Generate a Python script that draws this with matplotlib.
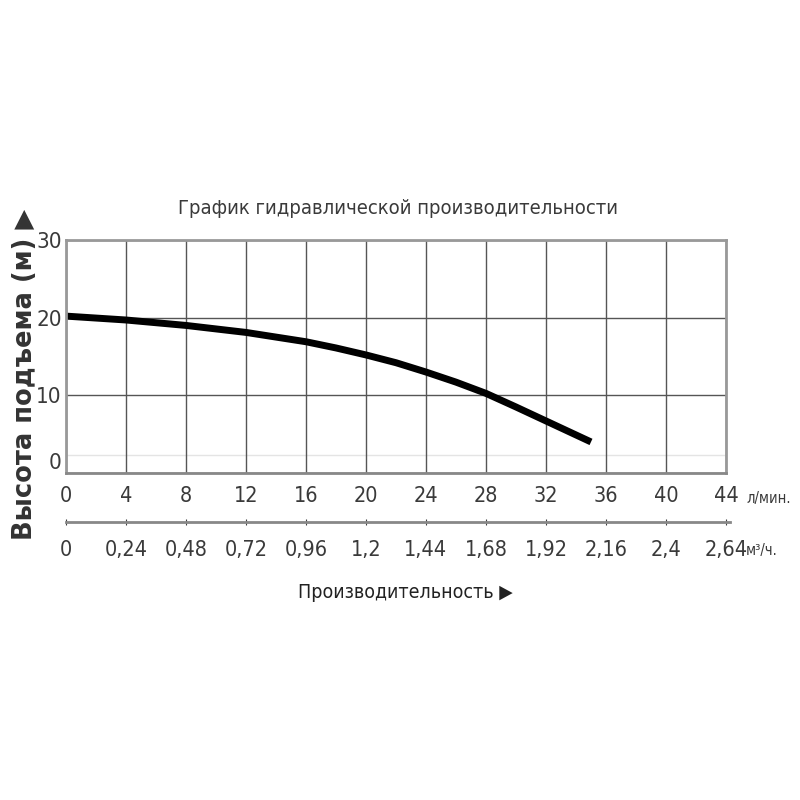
import matplotlib
matplotlib.use("Agg")
import matplotlib.pyplot as plt

plt.rcParams['font.family'] = ['DejaVu Sans']
plt.rcParams['font.stretch'] = 'condensed'

# data
flow_lpm = [0, 4, 8, 12, 16, 18, 20, 22, 24, 26, 28, 30, 32, 34, 35]
head_m = [20.2, 19.7, 19.0, 18.1, 16.9, 16.1, 15.2, 14.2, 13.0, 11.7, 10.25, 8.5, 6.7, 4.9, 4.0]
x_ticks_lpm = [0, 4, 8, 12, 16, 20, 24, 28, 32, 36, 40, 44]
x_ticks_m3h = ["0", "0,24", "0,48", "0,72", "0,96", "1,2", "1,44", "1,68", "1,92", "2,16", "2,4", "2,64"]
y_ticks = [0, 10, 20, 30]

TXT = "#3a3a3a"
fig = plt.figure(figsize=(8, 8), dpi=100)
L, R = 66/800, 726/800
B, T = (800-473)/800, (800-240)/800
ax = fig.add_axes([L, B, R-L, T-B])
ax.set_xlim(0, 44)
ax.set_ylim(0, 30)
ax.set_xticks(x_ticks_lpm)
ax.set_yticks(y_ticks)
ax.grid(True, color="#555555", linewidth=1.0)
ax.axhline(2.3, color="#e4e4e4", linewidth=1.0, zorder=0)
for s in ax.spines.values():
    s.set_color("#999999"); s.set_linewidth(2)
ax.spines['bottom'].set_color("#888888")
ax.tick_params(axis='x', length=0, pad=9, labelsize=15.5, colors=TXT)
ax.tick_params(axis='y', length=0, pad=3, labelsize=16, colors=TXT)
ax.get_yticklabels()[0].set_verticalalignment('bottom')
ax.plot(flow_lpm, head_m, color="black", linewidth=5, solid_capstyle='butt',
        solid_joinstyle='round')

# second axis (m3/h)
ax2 = fig.add_axes([L, (800-522)/800, (730-66)/800, 0.0001])
ax2.set_xlim(0, 44*(730-66)/(726-66))
for k in ['top', 'left', 'right']:
    ax2.spines[k].set_visible(False)
ax2.spines['bottom'].set_color("#888888"); ax2.spines['bottom'].set_linewidth(2)
ax2.set_yticks([])
ax2.set_xticks(x_ticks_lpm)
ax2.set_xticklabels(x_ticks_m3h)
ax2.tick_params(axis='x', length=4, direction='inout', pad=11, labelsize=15.5, colors=TXT)

fig.text(746/800, (800-498)/800, "л/мин.", fontsize=10.5, color=TXT, va='center', ha='left')
fig.text(746/800, (800-550)/800, "м³/ч.", fontsize=10.5, color=TXT, va='center', ha='left')

fig.text(398/800, (800-208)/800, "График гидравлической производительности", fontsize=14.5,
         color=TXT, ha='center', va='center')
fig.text(405/800, (800-592)/800, "Производительность ▶", fontsize=14,
         color="#222222", ha='center', va='center')
fig.text(25/800, (800-374)/800, "Высота подъема (м) ▶", fontsize=18.5, rotation=90,
         color="#333333", ha='center', va='center', fontweight='bold', fontstretch='normal')

fig.savefig("out.png", dpi=100, facecolor="white")
